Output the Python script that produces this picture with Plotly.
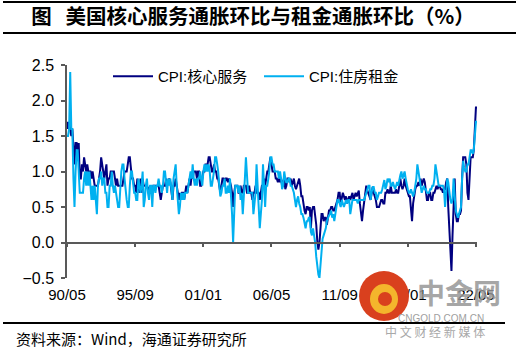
import pandas as pd
import plotly.graph_objects as go

# ---------------- data (monthly, 1990/05 - 2022/06) ----------------
core_services = [
    1.7, 1.6, 1.7, 1.6, 1.5, 1.6, 1.3, 1.1, 1.4, 1.4,
    1.3, 1.4, 0.9, 0.9, 1.1, 1.0, 1.2, 1.1, 1.0, 1.1,
    1.0, 1.0, 1.0, 0.9, 1.0, 0.9, 0.8, 0.8, 0.8, 0.8,
    0.9, 1.0, 1.2, 1.1, 1.0, 0.9, 1.0, 1.1, 0.8, 0.9,
    0.9, 1.0, 1.0, 1.0, 1.0, 0.9, 0.8, 0.9, 0.8, 0.8,
    0.8, 0.8, 0.8, 0.9, 1.0, 1.0, 1.0, 1.1, 1.2, 1.2,
    1.0, 0.9, 0.9, 0.8, 0.8, 0.7, 0.9, 0.8, 0.7, 0.9,
    0.7, 0.9, 0.8, 0.8, 0.8, 0.8, 0.75, 0.75, 0.8, 0.7,
    0.7, 0.8, 0.8, 0.8, 0.8, 0.8, 0.8, 0.7, 0.6, 0.7,
    0.8, 0.8, 0.8, 0.9, 0.8, 0.85, 0.9, 0.85, 0.7, 0.6,
    0.8, 0.8, 0.9, 0.8, 0.7, 0.6, 0.7, 0.6, 0.7, 0.7,
    0.6, 0.7, 0.8, 0.7, 0.8, 0.9, 0.8, 0.95, 0.9, 1.0,
    1.0, 1.0, 0.9, 1.0, 1.0, 0.8, 0.8, 0.9, 1.0, 1.0,
    1.1, 1.1, 1.1, 1.2, 1.2, 1.1, 1.0, 1.0, 1.1, 1.0,
    1.0, 0.9, 0.9, 0.8, 0.7, 0.8, 0.9, 0.9, 0.85, 0.9,
    0.9, 0.85, 0.9, 0.85, 0.8, 0.7, 0.5, 0.7, 0.8, 0.8,
    0.8, 0.7, 0.7, 0.8, 0.7, 0.7, 0.8, 0.8, 0.8, 0.7,
    0.7, 0.8, 0.7, 0.7, 0.6, 0.7, 0.7, 0.8, 0.7, 0.7,
    0.7, 0.6, 0.7, 0.8, 0.8, 0.9, 0.8, 0.9, 1.0, 1.0,
    1.1, 1.2, 1.1, 1.0, 1.0, 1.0, 0.9, 0.9, 0.85, 0.9,
    0.85, 0.9, 0.8, 0.85, 0.9, 0.75, 0.8, 0.9, 0.9, 0.85,
    0.9, 0.8, 0.85, 0.9, 0.8, 0.75, 0.8, 0.85, 0.9, 0.8,
    0.65, 0.65, 0.5, 0.45, 0.4, 0.5, 0.5, 0.45, 0.5, 0.2,
    0.45, 0.5, 0.5, 0.4, 0.25, 0.02, -0.1, 0.0, 0.2, 0.4,
    0.4, 0.3, 0.35, 0.35, 0.25, 0.35, 0.45, 0.45, 0.5, 0.5,
    0.45, 0.45, 0.5, 0.55, 0.6, 0.7, 0.7, 0.55, 0.65, 0.7,
    0.65, 0.6, 0.65, 0.55, 0.6, 0.65, 0.6, 0.65, 0.7, 0.6,
    0.65, 0.7, 0.65, 0.7, 0.73, 0.55, 0.45, 0.3, 0.45, 0.6,
    0.75, 0.8, 0.73, 0.7, 0.65, 0.6, 0.7, 0.78, 0.7, 0.65,
    0.6, 0.5, 0.5, 0.5, 0.55, 0.6, 0.6, 0.55, 0.55, 0.7,
    0.7, 0.75, 0.7, 0.7, 0.8, 0.7, 0.7, 0.7, 0.7, 0.75,
    0.7, 0.7, 0.8, 0.9, 0.8, 0.75, 0.8, 0.9, 0.8, 0.75,
    0.7, 0.65, 0.65, 0.5, 0.3, 0.55, 0.7, 0.75, 0.8, 0.8,
    0.85, 0.8, 0.9, 0.8, 0.85, 0.9, 0.85, 0.7, 0.6, 0.6,
    0.7, 0.7, 0.6, 0.6, 0.7, 0.7, 0.75, 0.8, 0.75, 0.8,
    0.8, 0.75, 0.75, 0.7, 0.75, 0.75, 0.85, 0.9, 0.5, 0.2,
    -0.1, -0.4, 0.1, 0.7, 0.9, 0.4, 0.3, 0.3, 0.4, 0.4,
    0.45, 0.9, 1.2, 1.2, 1.2, 1.1, 0.7, 0.6, 0.9, 1.2,
    1.2, 1.2, 1.3, 1.6, 1.9, 1.9,
]

rent = [
    1.5, 1.5, 1.6, 2.4, 1.6, 1.6, 0.9, 0.5, 1.0, 1.3,
    1.3, 1.0, 0.7, 0.7, 0.7, 0.7, 0.9, 1.0, 0.8, 1.0,
    0.8, 1.0, 0.8, 0.6, 0.8, 0.6, 0.8, 0.6, 0.4, 0.8,
    0.9, 0.9, 1.0, 0.8, 0.9, 0.9, 0.7, 0.7, 0.5, 0.5,
    0.8, 0.8, 1.0, 0.8, 0.7, 0.8, 0.7, 0.6, 0.5, 0.5,
    0.8, 1.0, 1.1, 1.1, 0.9, 0.7, 0.6, 0.5, 0.5, 0.8,
    1.0, 1.0, 0.8, 0.7, 0.7, 0.6, 0.6, 0.9, 0.8, 0.7,
    0.8, 1.0, 0.5, 0.6, 0.8, 0.9, 0.7, 0.6, 0.8, 0.8,
    0.5, 0.8, 0.8, 0.7, 0.8, 0.8, 0.9, 0.8, 0.8, 0.7,
    0.8, 1.0, 1.0, 0.8, 0.7, 0.9, 0.8, 0.9, 0.7, 0.6,
    0.9, 1.0, 1.1, 0.8, 0.6, 0.4, 0.5, 0.7, 0.6, 0.7,
    0.6, 0.7, 0.7, 0.7, 0.8, 0.9, 1.0, 0.9, 1.1, 0.9,
    0.8, 0.9, 0.8, 0.9, 0.9, 1.0, 0.9, 0.8, 1.0, 1.1,
    1.0, 1.1, 1.0, 1.1, 1.0, 0.8, 0.8, 0.9, 1.0, 1.2,
    1.2, 1.1, 1.0, 0.8, 0.65, 0.7, 0.8, 0.8, 0.9, 0.7,
    0.7, 0.8, 0.7, 0.9, 0.7, 0.4, 0.0, 0.5, 0.8, 0.8,
    0.8, 0.7, 0.8, 0.6, 0.7, 0.4, 0.6, 0.9, 1.2, 0.9,
    0.7, 0.7, 0.7, 0.7, 0.7, 0.4, 0.6, 0.7, 1.1, 0.8,
    0.7, 0.2, 0.4, 0.6, 1.1, 0.8, 0.5, 0.8, 0.8, 0.9,
    1.0, 1.2, 1.2, 1.1, 1.1, 1.0, 1.0, 1.0, 1.0, 0.9,
    1.0, 0.9, 0.75, 0.8, 1.0, 0.9, 0.85, 0.85, 0.9, 0.9,
    0.8, 0.8, 0.75, 0.7, 0.6, 0.5, 0.6, 0.65, 0.55, 0.5,
    0.4, 0.4, 0.35, 0.25, 0.2, 0.3, 0.3, 0.35, 0.35, 0.15,
    0.1, 0.2, 0.1, 0.0, -0.2, -0.35, -0.45, -0.5, -0.3, -0.1,
    0.05, 0.1, 0.15, 0.2, 0.3, 0.35, 0.38, 0.4, 0.45, 0.35,
    0.4, 0.3, 0.4, 0.5, 0.6, 0.6, 0.55, 0.5, 0.6, 0.55,
    0.5, 0.55, 0.6, 0.55, 0.6, 0.6, 0.4, 0.5, 0.6, 0.6,
    0.6, 0.6, 0.6, 0.55, 0.6, 0.6, 0.6, 0.6, 0.6, 0.6,
    0.65, 0.7, 0.75, 0.8, 0.8, 0.6, 0.7, 0.78, 0.78, 0.7,
    0.7, 0.6, 0.65, 0.7, 0.7, 0.7, 0.75, 0.8, 0.88, 0.75,
    0.8, 0.9, 0.85, 0.9, 0.8, 0.8, 0.85, 0.8, 0.75, 0.8,
    0.85, 0.8, 0.9, 0.95, 1.0, 0.9, 0.95, 1.0, 0.9, 0.8,
    0.75, 0.7, 0.7, 0.75, 0.7, 0.65, 0.7, 0.8, 0.9, 1.1,
    1.0, 0.9, 0.85, 0.7, 0.75, 0.8, 0.75, 0.75, 0.7, 0.7,
    0.7, 0.75, 0.75, 0.8, 0.8, 0.9, 1.1, 1.0, 0.9, 0.8,
    0.8, 0.8, 0.8, 0.8, 0.75, 0.5, 0.7, 0.9, 0.85, 0.7,
    0.6, 0.55, 0.6, 0.9, 0.7, 0.45, 0.4, 0.35, 0.4, 0.45,
    0.5, 0.9, 1.15, 1.05, 1.0, 1.0, 1.1, 1.1, 1.2, 1.3,
    1.3, 1.25, 1.3, 1.6, 1.7, 1.7,
]

assert len(core_services) == len(rent)

dates = pd.date_range("1990-05-01", periods=len(core_services), freq="MS")

tick_dates = ["1990-05-01", "1995-09-01", "2001-01-01", "2006-05-01",
              "2011-09-01", "2017-01-01", "2022-05-01"]
tick_labels = ["90/05", "95/09", "01/01", "06/05", "11/09", "17/01", "22/05"]
y_ticks = [-0.5, 0.0, 0.5, 1.0, 1.5, 2.0, 2.5]

series_names = ["CPI:核心服务", "CPI:住房租金"]
series_colors = ["#000080", "#00B0F0"]

title_text = "图\u00a0\u00a0\u00a0美国核心服务通胀环比与租金通胀环比（%）"
source_text = "资料来源：Wind，海通证券研究所"

# ---------------- figure ----------------
W, H = 521, 348
ML, MR, MT, MB = 67, 44, 65, 70
pw, ph = W - ML - MR, H - MT - MB


def px_x(x):
    return (x - ML) / pw


def px_y(y):
    return (H - MB - y) / ph


fig = go.Figure()
for vals, name, col in zip([core_services, rent], series_names, series_colors):
    fig.add_trace(go.Scatter(x=dates, y=vals, mode="lines", name=name,
                             line=dict(color=col, width=2)))

# invisible helper so the zero-line axis is drawn
fig.add_trace(go.Scatter(x=[dates[0]], y=[0], xaxis="x2", mode="lines",
                         showlegend=False, hoverinfo="skip",
                         line=dict(width=0)))

xr = [dates[0], dates[-1]]
axis_col = "#595959"
fig.update_layout(
    width=W, height=H,
    margin=dict(l=ML, r=MR, t=MT, b=MB),
    paper_bgcolor="white", plot_bgcolor="white",
    font=dict(family="Liberation Sans, Noto Sans CJK SC", color="black"),
    showlegend=True,
    legend=dict(orientation="h", x=px_x(108), y=px_y(60), xanchor="left",
                yanchor="top", font=dict(size=15, color="black",
                                         family="Liberation Sans, Noto Sans CJK SC"),
                bgcolor="rgba(0,0,0,0)", entrywidth=96, itemwidth=40),
    title=dict(text=title_text, x=253 / W, xanchor="center",
               y=1 - 17 / H, yanchor="middle", yref="container",
               font=dict(size=20.5, family="Noto Sans CJK SC", color="black",
                         weight="bold")),
    xaxis=dict(type="date", range=xr, showline=False, showgrid=False,
               zeroline=False, ticks="", tickvals=tick_dates,
               ticktext=tick_labels, tickfont=dict(size=15),
               ticklabelstandoff=6),
    xaxis2=dict(type="date", range=xr, overlaying="x", anchor="free",
                position=(0 - y_ticks[0]) / (y_ticks[-1] - y_ticks[0]),
                showline=True, linecolor=axis_col, linewidth=1.5,
                ticks="outside", ticklen=4, tickcolor=axis_col, tickwidth=1.5,
                tickvals=tick_dates, showticklabels=False, showgrid=False,
                zeroline=False),
    yaxis=dict(range=[y_ticks[0], y_ticks[-1]], tickvals=y_ticks,
               tickformat=".1f", showline=True, linecolor=axis_col,
               linewidth=1.5, ticks="outside", ticklen=4, tickcolor=axis_col,
               tickwidth=1.5, showgrid=False, zeroline=False,
               tickfont=dict(size=16), ticklabelstandoff=4),
)

# decorative rules
for y0, x1 in [(2, 516), (33, 516), (323, 505)]:
    fig.add_shape(type="line", xref="paper", yref="paper",
                  x0=px_x(3), x1=px_x(x1), y0=px_y(y0), y1=px_y(y0),
                  line=dict(color="black", width=2))

# source note
fig.add_annotation(text=source_text, xref="paper", yref="paper",
                   x=px_x(14), y=px_y(338), xanchor="left", yanchor="middle",
                   showarrow=False,
                   font=dict(size=15, family="Noto Sans CJK SC", color="black"))

# watermark logo
fig.add_shape(type="circle", xref="paper", yref="paper", layer="above",
              x0=px_x(359), x1=px_x(409), y0=px_y(321), y1=px_y(271),
              fillcolor="#d9401e", line=dict(width=0))
fig.add_shape(type="circle", xref="paper", yref="paper", layer="above",
              x0=px_x(370), x1=px_x(398), y0=px_y(314), y1=px_y(284),
              fillcolor="#f4b52c", line=dict(width=0))
fig.add_shape(type="circle", xref="paper", yref="paper", layer="above",
              x0=px_x(378), x1=px_x(392), y0=px_y(306), y1=px_y(292),
              fillcolor="#d9401e", line=dict(width=0))
fig.add_annotation(text="中金网", xref="paper", yref="paper",
                   x=px_x(459), y=px_y(292), xanchor="center", yanchor="middle",
                   showarrow=False,
                   font=dict(size=28, family="Noto Sans CJK SC",
                             color="rgba(150,150,150,0.85)", weight="bold"))
fig.add_annotation(text="CNGOLD.COM.CN", xref="paper", yref="paper",
                   x=px_x(441), y=px_y(318), xanchor="center", yanchor="middle",
                   showarrow=False,
                   font=dict(size=10, color="#a0a0a0"))
fig.add_annotation(text="中 文 财 经 新 媒 体", xref="paper", yref="paper",
                   x=px_x(435), y=px_y(331), xanchor="center", yanchor="middle",
                   showarrow=False,
                   font=dict(size=12, family="Noto Sans CJK SC", color="#a8a8a8"))

fig.write_html("out.html")
